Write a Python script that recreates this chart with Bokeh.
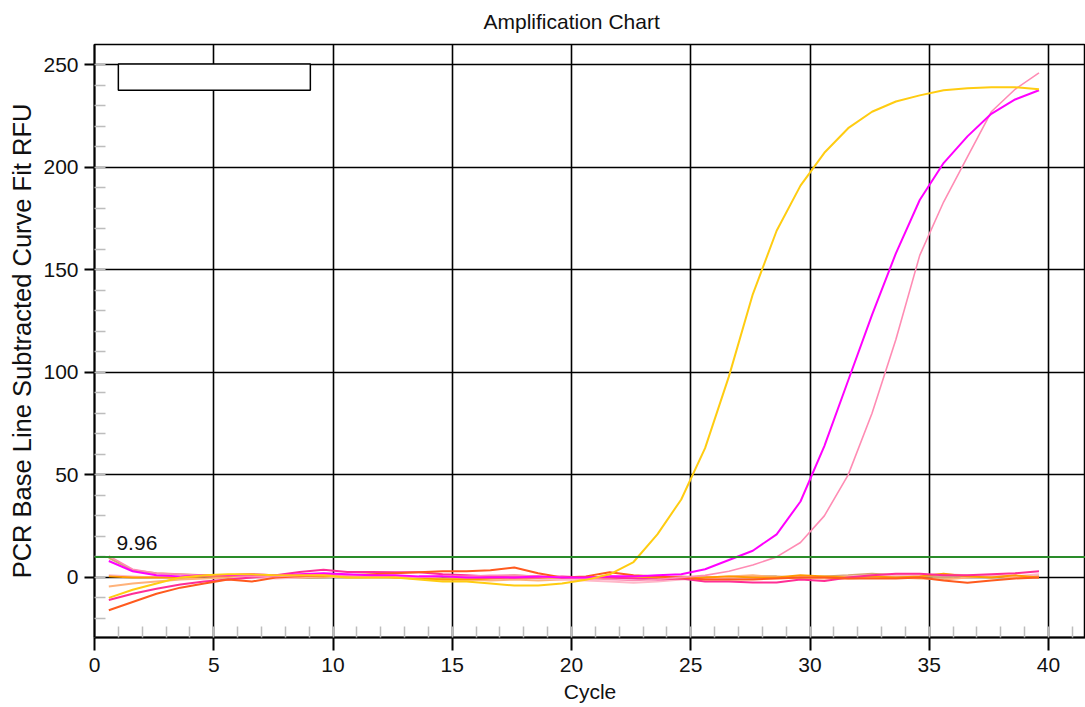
from bokeh.plotting import figure
from bokeh.models import Range1d, ColumnDataSource, Span, Label, BoxAnnotation, FixedTicker
from bokeh.embed import file_html
from bokeh.resources import INLINE

cycles = [0.6, 1.6, 2.6, 3.6, 4.6, 5.6, 6.6, 7.6, 8.6, 9.6,
          10.6, 11.6, 12.6, 13.6, 14.6, 15.6, 16.6, 17.6, 18.6, 19.6,
          20.6, 21.6, 22.6, 23.6, 24.6, 25.6, 26.6, 27.6, 28.6, 29.6,
          30.6, 31.6, 32.6, 33.6, 34.6, 35.6, 36.6, 37.6, 38.6, 39.6]

threshold = 9.96
x_ticks = [0, 5, 10, 15, 20, 25, 30, 35, 40]
y_ticks = [0, 50, 100, 150, 200, 250]

orangered = [-16, -12, -8, -5, -3, -1, -2, 0, 0.5, 1,
             1, 1.5, 2, 2.5, 3, 3, 3.5, 4.8, 2, 0,
             0.5, 2.5, 1, 0.5, 0, -1, -1, -1, -0.5, 0,
             0, -0.5, -0.5, -0.5, 0, -1.5, -2.6, -1.5, -0.5, 0]
deeppink = [-11, -8, -5.5, -3.5, -2, -1, 0, 1, 2.6, 3.7,
            2.6, 2.6, 2.5, 2.5, 1.5, 1, 0.5, 0, 0, 0.5,
            0, 0, -0.5, -1, -0.5, -2, -2, -2.5, -2.5, -1,
            -1.8, 0, 1, 1.8, 1.8, 1, 1, 1.5, 2, 3]
orange = [0.5, 0, 0, 0, 0.5, 0.5, 1, 1, 0.5, 0.5,
          1, 1, 0, -0.5, -1, -1, -0.5, 0, 0, 0,
          -0.5, 0, 0.5, 0, -0.5, 0, 0.5, 0, 0, 1,
          0.5, 0, 0.5, 0, 0.5, 1.8, 0.5, 0, 1, 0]
tan = [9.5, 3.5, 2, 1.5, 1, 1, 1.5, 1, -0.3, 0,
       0.5, 0.5, 0, 0, -0.5, 0, 0.6, 1, 0.5, 0,
       0, 0.5, 0, 0, 0.5, 0, 0, 0.5, 0.5, 0,
       0.5, 1, 1.8, 1, 0.5, 0, 0.5, 1, 0.5, 0.5]
peach = [-4.4, -3, -2, -1, -0.5, 0, 0.5, 0, 0, 0.5,
         0, 0, 0.5, 0, -1, -1, -1.5, -1, -1.5, -1,
         -0.5, 0, 0, 0.5, 0, 0, 0.5, 1, 0, 0,
         -0.5, -0.5, 0, 0, -0.5, -1, 0, 0.5, 0, 0.5]
lightpink = [1, 0.5, 0, 0, 0.5, 0.5, 0, -0.5, 0, 0.5,
             0.5, 0, 0, 0, 0.5, 0.5, 0, 0, -0.5, -1,
             -1.5, -2, -2.6, -2, -1, -0.5, 0, 0, 0, 0.5,
             0, 0.5, 1, 1, 1, 1.5, 1, 1, 0.5, 1.5]
yellow = [-10, -6, -3, 0, 1, 1.5, 1.5, 1, 1, 1,
          0, 0, 0, -1, -2, -2, -3, -4, -4, -3,
          -1.2, 1.5, 7.5, 21, 38, 63, 98, 138, 169, 191,
          207, 219, 227, 232, 235, 237.5, 238.5, 239, 239, 238]
magenta = [8, 3, 1, 0.5, 1, 1, 1.5, 1, 1.5, 2,
           1.5, 1, 1, 0.5, 0.5, 0, 0, 0, 0.5, 0,
           0, 0.5, 0.5, 1, 1.5, 4, 8.5, 13, 21, 37,
           64, 96, 128, 158, 184, 202, 215, 226, 233, 237.5]
pink = [10.5, 4, 2, 1.5, 1, 1, 0.5, 0.5, 1, 1,
        1, 0.5, 0, 0, 0.5, 0.5, 1, 1, 0.5, 0,
        -0.5, -1, -1.5, -1, 0, 1, 3, 6, 10, 17,
        30, 50, 80, 116, 157, 183, 205, 227, 238, 246]

series = [
    ("tan", tan, "#D6A46E", 2),
    ("peach", peach, "#FFB27A", 2),
    ("lightpink", lightpink, "#FFB8C8", 2),
    ("orange", orange, "#FF9A00", 2),
    ("deeppink", deeppink, "#FF2E96", 2),
    ("orangered", orangered, "#FF5A1E", 2),
    ("pink", pink, "#FF8CB4", 1.6),
    ("magenta", magenta, "#FF00FF", 2),
    ("yellow", yellow, "#FFCC11", 2),
]

FONT = "Liberation Sans"

p = figure(frame_width=991, frame_height=593, output_backend="svg", toolbar_location=None,
           x_range=Range1d(0, 41.55), y_range=Range1d(-29.3, 259.8),
           min_border_left=94, min_border_right=0, min_border_top=44, min_border_bottom=70,
           title="Amplification Chart")

p.title.align = "left"
p.title.offset = 389
p.title.standoff = 19
p.title.vertical_align = "top"
p.title.text_font = FONT
p.title.text_font_size = "21px"
p.title.text_font_style = "normal"
p.title.text_color = "#111111"

p.outline_line_color = "black"
p.outline_line_width = 1.5
p.background_fill_color = "white"
p.border_fill_color = "white"

p.xaxis.ticker = FixedTicker(ticks=x_ticks, minor_ticks=list(range(0, 42)))
p.yaxis.ticker = FixedTicker(ticks=y_ticks, minor_ticks=list(range(-20, 260, 10)))

for ax in (p.xaxis[0], p.yaxis[0]):
    ax.axis_line_color = "black"
    ax.axis_line_width = 2
    ax.major_tick_line_color = "black"
    ax.major_tick_line_width = 2
    ax.major_tick_in = 0
    ax.minor_tick_line_color = "#BDBDBD"
    ax.minor_tick_line_width = 1.5
    ax.minor_tick_in = 11
    ax.minor_tick_out = 0
    ax.major_label_text_font = FONT
    ax.major_label_text_font_size = "21px"
    ax.major_label_text_color = "#111111"
    ax.axis_label_text_font = FONT
    ax.axis_label_text_font_style = "normal"
    ax.axis_label_text_color = "#111111"

p.xaxis.major_tick_out = 13
p.yaxis.major_tick_out = 10
p.xaxis.major_label_standoff = 7
p.yaxis.major_label_standoff = 6
p.xaxis.axis_label = "Cycle"
p.xaxis.axis_label_text_font_size = "21px"
p.xaxis.axis_label_standoff = 5
p.yaxis.axis_label = "PCR Base Line Subtracted Curve Fit RFU"
p.yaxis.axis_label_text_font_size = "25.5px"
p.yaxis.axis_label_standoff = 4

p.xgrid.grid_line_color = "black"
p.ygrid.grid_line_color = "black"
p.xgrid.grid_line_width = 1.6
p.ygrid.grid_line_width = 1.6

for name, vals, color, w in series:
    src = ColumnDataSource(data=dict(x=cycles, y=vals))
    p.line("x", "y", source=src, line_color=color, line_width=w)

p.add_layout(Span(location=threshold, dimension="width", line_color="#2A8C2A", line_width=2))
p.add_layout(Label(x=0.92, y=17.0, text=f"{threshold:.2f}", text_font=FONT,
                   text_font_size="21px", text_color="#111111", text_baseline="alphabetic"))

p.add_layout(BoxAnnotation(left=1.0, right=9.05, top=250.3, bottom=237.5,
                           fill_color="white", fill_alpha=1.0,
                           line_color="black", line_width=1.5, line_alpha=1.0))

open("out.html", "w").write(file_html(p, INLINE))
